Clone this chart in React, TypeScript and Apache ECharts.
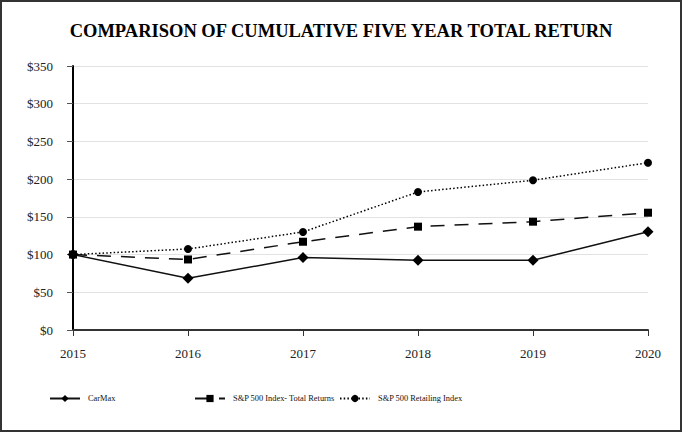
import React, { useEffect, useRef } from "react";
import * as echarts from "echarts";

const years = ["2015", "2016", "2017", "2018", "2019", "2020"];
const carmax = [100, 68.5, 96, 92.4, 92.4, 130.3];
const sp500 = [100, 93.5, 117, 137, 143.6, 155.5];
const retailing = [100, 107.4, 130, 183, 198.5, 221.8];
const yTicks = [0, 50, 100, 150, 200, 250, 300, 350];

const FONT = "'Liberation Serif', 'Times New Roman', serif";

export default function App() {
  const ref = useRef<HTMLDivElement>(null);
  useEffect(() => {
    if (!ref.current) return;
    const chart = echarts.init(ref.current, null, { renderer: "svg" });
    const legendCommon = {
      top: 387.5,
      itemWidth: 30,
      itemHeight: 9,
      textStyle: { fontFamily: FONT, fontSize: 8.4, color: "#111", padding: [0, 0, 0, 3] },
    };
    chart.setOption({
      animation: false,
      backgroundColor: "#fff",
      title: {
        text: "COMPARISON OF CUMULATIVE FIVE YEAR TOTAL RETURN",
        left: "center",
        top: 14,
        textStyle: { fontFamily: FONT, fontSize: 18.5, fontWeight: "bold", color: "#000" },
      },
      legend: [
        { ...legendCommon, left: 42, data: ["CarMax"] },
        { ...legendCommon, left: 187, data: ["S&P 500 Index- Total Returns"] },
        { ...legendCommon, left: 332, data: ["S&P 500 Retailing Index"] },
      ],
      grid: { left: 71, right: 32, top: 64, bottom: 100 },
      xAxis: {
        type: "category",
        data: years,
        boundaryGap: false,
        axisLine: { lineStyle: { color: "#333", width: 2 } },
        axisTick: { show: true, length: 6, lineStyle: { color: "#333" } },
        axisLabel: { fontFamily: FONT, fontSize: 13, color: "#222", margin: 17 },
        splitLine: { show: false },
      },
      yAxis: {
        type: "value",
        min: 0,
        max: 350,
        interval: 50,
        axisLine: { show: true, lineStyle: { color: "#000", width: 2 } },
        axisTick: { show: true, length: 6, lineStyle: { color: "#555" } },
        axisLabel: {
          fontFamily: FONT,
          fontSize: 13,
          color: "#222",
          margin: 20,
          formatter: (v: number) => (yTicks.includes(v) ? "$" + v : ""),
        },
        splitLine: { show: true, lineStyle: { color: "#e2e2e2", width: 1 } },
      },
      series: [
        {
          name: "CarMax",
          type: "line",
          data: carmax,
          symbol: "diamond",
          symbolSize: 11,
          itemStyle: { color: "#000" },
          lineStyle: { color: "#111", width: 1.5, type: "solid" },
        },
        {
          name: "S&P 500 Index- Total Returns",
          type: "line",
          data: sp500,
          symbol: "rect",
          symbolSize: 8,
          itemStyle: { color: "#000" },
          lineStyle: { color: "#111", width: 1.5, type: [14, 10] },
        },
        {
          name: "S&P 500 Retailing Index",
          type: "line",
          data: retailing,
          symbol: "circle",
          symbolSize: 8,
          itemStyle: { color: "#000" },
          lineStyle: { color: "#000", width: 1.5, type: [1.5, 2.2] },
        },
      ],
    });
    return () => chart.dispose();
  }, []);
  return (
    <div
      style={{
        position: "fixed",
        left: 0,
        top: 0,
        width: 682,
        height: 432,
        boxSizing: "border-box",
        border: "2px solid #333",
        background: "#fff",
      }}
    >
      <div ref={ref} style={{ width: 678, height: 428 }} />
    </div>
  );
}
